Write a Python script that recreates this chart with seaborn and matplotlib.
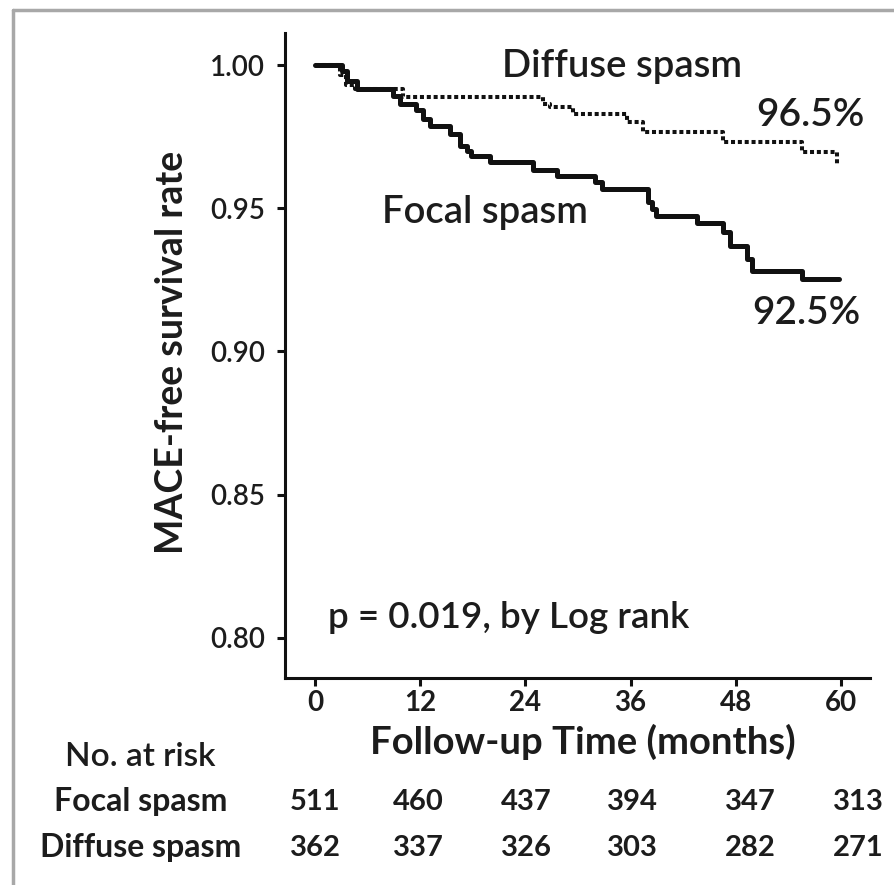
import numpy as np
import pandas as pd
import matplotlib
matplotlib.use("Agg")
import matplotlib.pyplot as plt
import seaborn as sns
from matplotlib.lines import Line2D

# ---- data ----
focal_time = [0, 3.1, 3.65, 4.8, 8.9, 9.7, 11.5, 12.3, 13.1, 15.4, 16.5, 17.3, 17.8,
              20.0, 24.9, 27.6, 31.9, 32.7, 38.0, 38.4, 38.9, 43.6, 46.5, 47.3,
              49.3, 49.8, 55.6, 59.8]
focal_surv = [1.0, 0.9979, 0.9944, 0.9916, 0.9892, 0.9864, 0.9843, 0.9811, 0.9787,
              0.9759, 0.9717, 0.9699, 0.9682, 0.9661, 0.9633, 0.9612, 0.9591, 0.9566,
              0.9521, 0.9497, 0.9472, 0.9448, 0.9416, 0.9367, 0.9322, 0.9280, 0.9252,
              0.9252]
diffuse_time = [0, 2.85, 3.5, 4.56, 10.0, 26.0, 26.8, 29.4, 35.6, 37.4, 46.5, 55.6,
                59.5, 59.8]
diffuse_surv = [1.0, 0.9965, 0.9930, 0.9916, 0.9888, 0.9864, 0.9853, 0.9829, 0.9801,
                0.9766, 0.9731, 0.9696, 0.9654, 0.9654]

x_ticks = [0, 12, 24, 36, 48, 60]
y_ticks = [0.80, 0.85, 0.90, 0.95, 1.00]
groups = ["Focal spasm", "Diffuse spasm"]
at_risk_focal = [511, 460, 437, 394, 347, 313]
at_risk_diffuse = [362, 337, 326, 303, 282, 271]
final_labels = ["92.5%", "96.5%"]

df = pd.concat([
    pd.DataFrame({"time": focal_time, "surv": focal_surv, "group": groups[0]}),
    pd.DataFrame({"time": diffuse_time, "surv": diffuse_surv, "group": groups[1]}),
], ignore_index=True)

# ---- style ----
sns.set_style("ticks")
plt.rcParams["font.family"] = ["Lato", "DejaVu Sans"]
TXT = "#1c1c1c"

W, H = 895, 885
fig = plt.figure(figsize=(W / 100, H / 100), dpi=100)
fig.patch.set_facecolor("white")

def fx(px):
    return px / W

def fy(py):
    return 1 - py / H

ax = fig.add_axes([fx(285), fy(678), fx(870) - fx(285), fy(33) - fy(678)])

sns.lineplot(data=df[df.group == groups[0]], x="time", y="surv", ax=ax,
             drawstyle="steps-post", estimator=None, sort=False,
             color="#111111", linewidth=3.6, legend=False)
sns.lineplot(data=df[df.group == groups[1]], x="time", y="surv", ax=ax,
             drawstyle="steps-post", estimator=None, sort=False,
             color="#111111", linewidth=2.9, dashes=False, legend=False)
ax.lines[-1].set_linestyle((0, (1.0, 0.7)))

ax.set_xlim(-3.42, 63.3)
ax.set_ylim(0.7860, 1.0112)
ax.set_xticks(x_ticks)
ax.set_yticks(y_ticks)
ax.set_yticklabels([f"{v:.2f}" for v in y_ticks])
ax.tick_params(axis="both", direction="out", length=5.5, width=2.2, color="#111111",
               labelcolor=TXT)
ax.tick_params(axis="y", pad=9)
ax.tick_params(axis="x", pad=3)
for lab in ax.get_xticklabels():
    lab.set_fontsize(20)
    lab.set_fontweight("bold")
for lab in ax.get_yticklabels():
    lab.set_fontsize(20)
    lab.set_fontweight("semibold")
sns.despine(ax=ax)
for s in ["left", "bottom"]:
    ax.spines[s].set_linewidth(2.2)
    ax.spines[s].set_color("#111111")

ax.set_xlabel("Follow-up Time (months)", fontsize=27.5, fontweight="bold", color=TXT)
ax.set_ylabel("MACE-free survival rate", fontsize=27, fontweight="bold", color=TXT)
ax.xaxis.set_label_coords((583 - 285) / (870 - 285), -(742 - 678) / (678 - 33))
ax.yaxis.set_label_coords(-(285 - 172) / (870 - 285), (678 - 352) / (678 - 33))
ax.xaxis.label.set_va("center")
ax.yaxis.label.set_va("center")

# annotations in the plot
kw = dict(color=TXT, ha="center", va="center", fontweight="semibold")
fig.text(fx(622), fy(66), groups[1], fontsize=27.5, **kw)
fig.text(fx(485), fy(212), groups[0], fontsize=27.5, **kw)
fig.text(fx(810), fy(115), final_labels[1], fontsize=28, **kw)
fig.text(fx(806), fy(313), final_labels[0], fontsize=28, **kw)
fig.text(fx(509), fy(618), "p = 0.019, by Log rank", fontsize=26.5, **kw)

# number at risk table
fig.text(fx(140), fy(757), "No. at risk", fontsize=24, **kw)
kwb = dict(color=TXT, ha="center", va="center", fontweight="bold")
fig.text(fx(141), fy(802), groups[0], fontsize=23, **kwb)
fig.text(fx(141), fy(848), groups[1], fontsize=23, **kwb)
col_px = [315, 418, 526, 632, 750, 858]
for cx, a, b in zip(col_px, at_risk_focal, at_risk_diffuse):
    fig.text(fx(cx), fy(802), str(a), fontsize=21, **kwb)
    fig.text(fx(cx), fy(848), str(b), fontsize=21, **kwb)

# outer grey frame (top and left edges)
fig.add_artist(Line2D([fx(13), fx(895)], [fy(10), fy(10)], color="#a8a8a8", linewidth=2.5))
fig.add_artist(Line2D([fx(13), fx(13)], [fy(10), fy(885)], color="#a8a8a8", linewidth=2.5))

fig.savefig("out.png", dpi=100, facecolor="white")
